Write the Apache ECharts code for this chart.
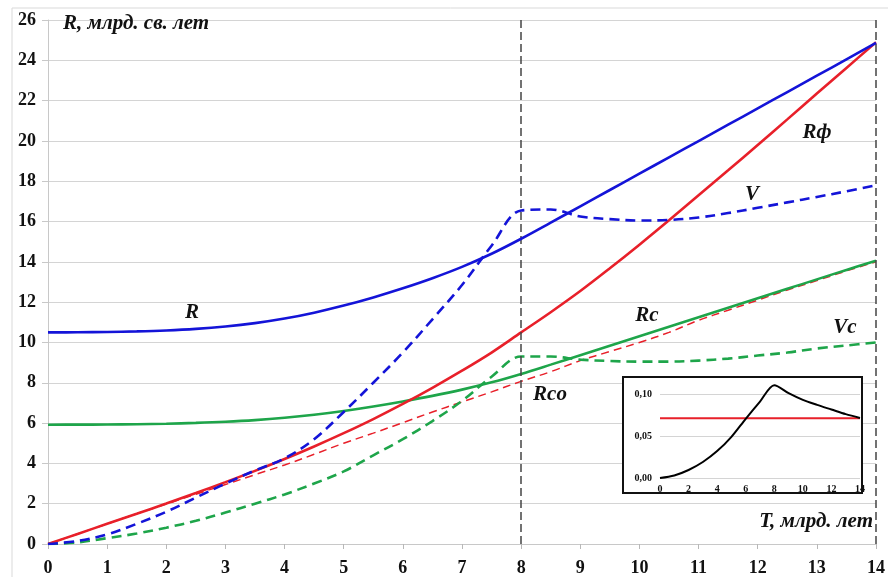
<!DOCTYPE html>
<html><head><meta charset="utf-8">
<script src="https://cdn.jsdelivr.net/npm/echarts@6/dist/echarts.min.js"></script>
<style>html,body{margin:0;padding:0;background:#fff}#c{width:888px;height:577px}</style>
</head><body><div id="c"></div>
<script>
// ---- data ----
var T = [0,0.5,1,1.5,2,2.5,3,3.5,4,4.5,5,5.5,6,6.5,7,7.5,8,8.5,9,9.5,10,10.5,11,11.5,12,12.5,13,13.5,14];
var R   = [10.5,10.505,10.52,10.548,10.595,10.672,10.79,10.958,11.185,11.478,11.83,12.235,12.688,13.188,13.75,14.4,15.145,15.945,16.755,17.565,18.375,19.185,19.995,20.805,21.615,22.425,23.235,24.045,24.86];
var Rf  = [0,0.5,1.0,1.5,2.01,2.53,3.07,3.63,4.22,4.84,5.5,6.2,6.95,7.75,8.6,9.5,10.5,11.5,12.55,13.68,14.85,16.06,17.3,18.54,19.8,21.07,22.35,23.62,24.9];
var V   = [0,0.15,0.48,1.0,1.6,2.3,3.0,3.65,4.25,5.2,6.55,8.0,9.5,11.15,12.85,14.8,16.55,16.6,16.25,16.12,16.05,16.08,16.2,16.42,16.68,16.95,17.22,17.5,17.8];
var Rc  = [5.92,5.922,5.93,5.945,5.97,6.008,6.063,6.145,6.263,6.415,6.603,6.825,7.075,7.35,7.66,8.02,8.44,8.9,9.37,9.84,10.31,10.78,11.25,11.72,12.19,12.66,13.13,13.6,14.05];
var Vc  = [0,0.08,0.29,0.52,0.81,1.15,1.56,2.0,2.46,3.0,3.6,4.4,5.2,6.1,7.1,8.3,9.3,9.3,9.15,9.08,9.05,9.05,9.1,9.2,9.35,9.5,9.7,9.85,10.0];
var Rco = [0,0.5,1.0,1.5,1.98,2.47,2.95,3.44,3.92,4.45,5.0,5.5,6.02,6.55,7.05,7.55,8.07,8.55,9.1,9.55,10.0,10.5,11.1,11.6,12.1,12.6,13.07,13.55,14.0];
var xTicks = [0,1,2,3,4,5,6,7,8,9,10,11,12,13,14];
var yTicks = [0,2,4,6,8,10,12,14,16,18,20,22,24,26];
var markT = [8, 14];
// inset
var HT = [0,1,2,3,4,5,6,7,8,9,10,11,12,13,14];
var H  = [0,0.003,0.0095,0.019,0.032,0.049,0.0705,0.091,0.1105,0.101,0.093,0.087,0.0815,0.076,0.0715];
var H0 = [0.0711,0.0711,0.0711,0.0711,0.0711,0.0711,0.0711,0.0711,0.0711,0.0711,0.0711,0.0711,0.0711,0.0711,0.0711];
var insetMarkT = [0.5, 8, 14];

function pairs(xs, ys){ return xs.map(function(x,i){return [x, ys[i]];}); }

var SERIF = '"Liberation Serif","Times New Roman",serif';
var BLUE = '#1414d8', RED = '#e8202a', GREEN = '#1ea54a';
var SM = 0.35;

var chart = echarts.init(document.getElementById('c'), null, {renderer:'canvas'});
function lbl(text, x, y, size, align){
  return {type:'text', z:40, x:x, y:y, style:{text:text, fill:'#111', font:'italic bold '+size+'px '+SERIF, textAlign:align||'center', textVerticalAlign:'middle'}};
}
var option = {
  animation:false,
  backgroundColor:'#fff',
  grid:[
    {left:48, right:10, top:20, bottom:30.5},
    {left:660, top:394, width:200, height:84, z:60}
  ],
  xAxis:[
    {type:'value', gridIndex:0, min:0, max:14, interval:1, z:0,
     axisLine:{show:true, lineStyle:{color:'#c8c8c8', width:1}},
     axisTick:{show:true, length:5, lineStyle:{color:'#b8b8b8'}},
     axisLabel:{margin:15, fontFamily:SERIF, fontWeight:'bold', fontSize:18, color:'#111'},
     splitLine:{show:false}},
    {type:'value', gridIndex:1, min:0, max:14, interval:2, z:60,
     axisLine:{show:false}, axisTick:{show:false},
     axisLabel:{margin:6, fontFamily:SERIF, fontWeight:'bold', fontSize:10, color:'#111'},
     splitLine:{show:false}}
  ],
  yAxis:[
    {type:'value', gridIndex:0, min:0, max:26, interval:2, z:0,
     axisLine:{show:true, lineStyle:{color:'#c8c8c8', width:1}},
     axisTick:{show:true, length:6, lineStyle:{color:'#c8c8c8'}},
     axisLabel:{margin:12, fontFamily:SERIF, fontWeight:'bold', fontSize:18, color:'#111'},
     splitLine:{show:true, lineStyle:{color:'#d4d4d4', width:1}}},
    {type:'value', gridIndex:1, min:0, max:0.10, interval:0.05, z:60,
     axisLine:{show:false}, axisTick:{show:false},
     axisLabel:{margin:8, fontFamily:SERIF, fontWeight:'bold', fontSize:10, color:'#111',
       formatter:function(v){return v.toFixed(2).replace('.', ',');}},
     splitLine:{show:true, lineStyle:{color:'#d4d4d4', width:1}}}
  ],
  series:[
    {type:'line', name:'Rco', data:pairs(T,Rco), smooth:SM, showSymbol:false, z:2,
     lineStyle:{color:RED, width:1.5, type:[8,5]},
     markLine:{silent:true, symbol:'none', label:{show:false},
       lineStyle:{color:'#444', width:1.5, type:[8,4]},
       data:markT.map(function(t){return {xAxis:t};})}},
    {type:'line', name:'Rc', data:pairs(T,Rc), smooth:SM, showSymbol:false, z:3,
     lineStyle:{color:GREEN, width:2.6}},
    {type:'line', name:'Vc', data:pairs(T,Vc), smooth:SM, showSymbol:false, z:3,
     lineStyle:{color:GREEN, width:2.6, type:[10,6]}},
    {type:'line', name:'Rf', data:pairs(T,Rf), smooth:SM, showSymbol:false, z:4,
     lineStyle:{color:RED, width:2.6}},
    {type:'line', name:'V', data:pairs(T,V), smooth:SM, showSymbol:false, z:4,
     lineStyle:{color:BLUE, width:2.6, type:[10,6]}},
    {type:'line', name:'R', data:pairs(T,R), smooth:SM, showSymbol:false, z:5,
     lineStyle:{color:BLUE, width:2.6}},
    // inset
    {type:'line', name:'H0', xAxisIndex:1, yAxisIndex:1, data:pairs(HT,H0), showSymbol:false, z:61, clip:false,
     lineStyle:{color:RED, width:2},
     markLine:{silent:true, symbol:'none', label:{show:false},
       lineStyle:{color:'#555', width:0.8, type:[2,2]},
       data:insetMarkT.map(function(t){return {xAxis:t};})}},
    {type:'line', name:'H', xAxisIndex:1, yAxisIndex:1, data:pairs(HT,H), smooth:0.3, showSymbol:false, z:62, clip:false,
     lineStyle:{color:'#000', width:2}}
  ],
  graphic:[
    {type:'rect', z:-1, shape:{x:12, y:8, width:900, height:600}, style:{fill:null, stroke:'#d9d9d9', lineWidth:1}, silent:true},
    {type:'rect', z:50, zlevel:0, shape:{x:623, y:377, width:239, height:116}, style:{fill:'#fff', stroke:'#111', lineWidth:2}, silent:true},
    lbl('R, млрд. св. лет', 63, 24, 21, 'left'),
    lbl('T, млрд. лет', 873, 522, 21, 'right'),
    lbl('R', 192, 313, 21),
    lbl('Rф', 817, 133, 21),
    lbl('V', 752, 195, 21),
    lbl('Rc', 647, 316, 21),
    lbl('Vc', 845, 328, 21),
    lbl('Rco', 550, 395, 21),
    lbl('Ho', 698, 407, 16),
    lbl('Had', 826, 396, 16),
    lbl('T, млрд. лет', 853, 468, 12, 'right')
  ]
};
chart.setOption(option);
</script>
</body></html>
